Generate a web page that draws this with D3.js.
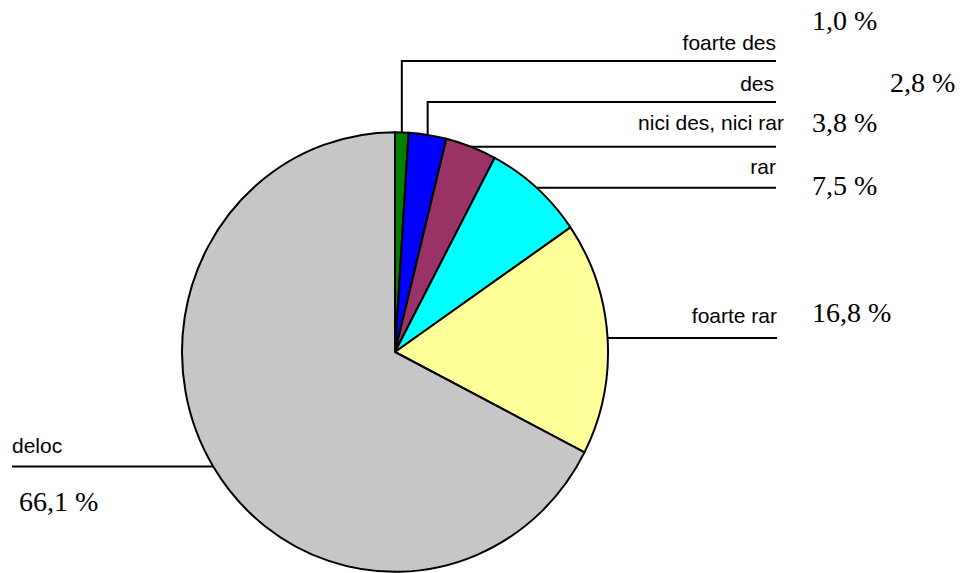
<!DOCTYPE html>
<html lang="ro">
<head>
    <meta charset="UTF-8">
    <title>Pie</title>
    <style>
        body { margin: 0; background: #fff; }
        .lbl { font-family: 'Liberation Sans', Arial, sans-serif; font-size: 21px; fill: #000; }
        .pct { font-family: 'Liberation Serif', 'Times New Roman', serif; font-size: 28px; fill: #000; }
        .leader { fill: none; stroke: #000; stroke-width: 2px; }
    </style>
</head>
<body>
    <svg id="chart" width="965" height="573"></svg>

    <script src="https://d3js.org/d3.v7.min.js"></script>
    <script>
        // Data
        const categories = ["foarte des", "des", "nici des, nici rar", "rar", "foarte rar", "deloc"];
        const values = [1.0, 2.8, 3.8, 7.5, 16.8, 66.1];
        const pctLabels = ["1,0 %", "2,8 %", "3,8 %", "7,5 %", "16,8 %", "66,1 %"];
        const colors = ["#008000", "#0000ff", "#993366", "#00ffff", "#ffff99", "#c6c6c6"];

        // Layout (label placement around the pie)
        const cx = 395, cy = 352, r = 213, sy = 1.032;
        const elbowY = [61, 102, null, null, null, null];     // leaders that go up first
        const lineEnd = [776, 776, 776, 776, 777, 12];
        const labelPos = [[776, 50, "end"], [774, 91, "end"], [784, 130, "end"], [776, 174, "end"], [777, 323, "end"], [12, 453, "start"]];
        const pctPos = [[812, 30], [890, 92], [812, 132], [812, 195], [812, 322], [19, 511]];

        const svg = d3.select("#chart");

        const pie = d3.pie().sort(null).value(d => d);
        const arcs = pie(values);
        const arc = d3.arc().innerRadius(0).outerRadius(r);

        const g = svg.append("g")
            .attr("transform", "translate(" + cx + "," + cy + ") scale(1," + sy + ")");

        g.selectAll("path")
            .data(arcs)
            .enter().append("path")
            .attr("d", arc)
            .attr("fill", (d, i) => colors[i])
            .attr("stroke", "#000")
            .attr("stroke-width", 2)
            .attr("stroke-linejoin", "round")
            .attr("vector-effect", "non-scaling-stroke");

        // leader lines from the middle of each slice edge
        arcs.forEach((d, i) => {
            const a = (d.startAngle + d.endAngle) / 2;
            const px = cx + r * Math.sin(a);
            const py = cy - r * sy * Math.cos(a);
            let pts;
            if (elbowY[i] !== null) {
                pts = [[px, py], [px, elbowY[i]], [lineEnd[i], elbowY[i]]];
            } else {
                pts = [[px, py], [lineEnd[i], py]];
            }
            svg.append("path")
                .attr("class", "leader")
                .attr("d", d3.line()(pts));
        });

        svg.selectAll(".lbl")
            .data(categories)
            .enter().append("text")
            .attr("class", "lbl")
            .attr("x", (d, i) => labelPos[i][0])
            .attr("y", (d, i) => labelPos[i][1])
            .attr("text-anchor", (d, i) => labelPos[i][2])
            .text(d => d);

        svg.selectAll(".pct")
            .data(pctLabels)
            .enter().append("text")
            .attr("class", "pct")
            .attr("x", (d, i) => pctPos[i][0])
            .attr("y", (d, i) => pctPos[i][1])
            .text(d => d);
    </script>
</body>
</html>
